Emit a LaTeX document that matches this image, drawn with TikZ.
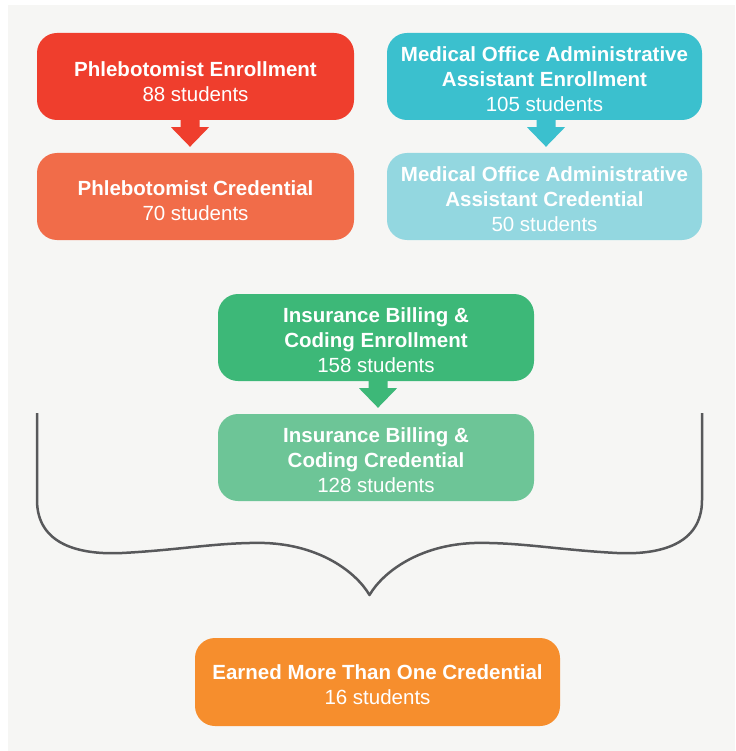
\documentclass[tikz,border=0pt]{standalone}
\usepackage{fontspec}
\setmainfont{Liberation Sans}
\definecolor{bgGray}{HTML}{F6F6F4}
\definecolor{cRed}{HTML}{EF3E2D}
\definecolor{cRedL}{HTML}{F16C49}
\definecolor{cTeal}{HTML}{3BC0CE}
\definecolor{cTealL}{HTML}{93D7E0}
\definecolor{cGreen}{HTML}{3DB878}
\definecolor{cGreenL}{HTML}{6DC597}
\definecolor{cOrange}{HTML}{F68E2D}
\definecolor{braceGray}{HTML}{58595B}
\newcommand\flowarr[4]{%
  \fill[#1] ([xshift=#4-9.5pt,yshift=1pt]#2.south) -- ([xshift=#4-9.5pt,yshift=-7pt]#2.south)
    -- ([xshift=#4-19pt,yshift=-7pt]#2.south) -- ([xshift=#4,yshift=6pt]#3.north)
    -- ([xshift=#4+19pt,yshift=-7pt]#2.south) -- ([xshift=#4+9.5pt,yshift=-7pt]#2.south)
    -- ([xshift=#4+9.5pt,yshift=1pt]#2.south) -- cycle;}
\begin{document}
\begin{tikzpicture}[x=1pt,y=-1pt,
  box/.style={rectangle, rounded corners=20pt, inner sep=0pt, draw=none},
  lbl/.style={text=white, align=center, inner sep=0pt, font=\fontsize{20.5}{25}\selectfont}]
\useasboundingbox (0,0) rectangle (735,751);
\fill[white] (0,0) rectangle (735,751);
\fill[bgGray] (8,5) rectangle (735,751);

% boxes
\node[box, fill=cRed, minimum width=317pt, minimum height=87pt] (pe) at (195.5,76.5) {};
\node[box, fill=cRedL, minimum width=317pt, minimum height=87pt] (pc) at (195.5,196.5) {};
\node[box, fill=cTeal, minimum width=315pt, minimum height=87pt] (me) at (544.5,76.5) {};
\node[box, fill=cTealL, minimum width=315pt, minimum height=87pt] (mc) at (544.5,196.5) {};
\node[box, fill=cGreen, minimum width=316pt, minimum height=87pt] (ie) at (376,337.5) {};
\node[box, fill=cGreenL, minimum width=316pt, minimum height=87pt] (ic) at (376,457.5) {};
\node[box, fill=cOrange, minimum width=365pt, minimum height=88pt] (oc) at (377.5,682) {};

% texts
\node[lbl] (pe-t) at ([yshift=-5pt]pe.center) {\textbf{Phlebotomist Enrollment}\\88 students};
\node[lbl] (pc-t) at ([yshift=-4pt]pc.center) {\textbf{Phlebotomist Credential}\\70 students};
\node[lbl] (me-t) at ([yshift=-3pt]me.center) {\textbf{Medical Office Administrative}\\\textbf{Assistant Enrollment}\\105 students};
\node[lbl] (mc-t) at ([yshift=-3pt]mc.center) {\textbf{Medical Office Administrative}\\\textbf{Assistant Credential}\\50 students};
\node[lbl] (ie-t) at ([yshift=-3pt]ie.center) {\textbf{Insurance Billing \&}\\\textbf{Coding Enrollment}\\158 students};
\node[lbl] (ic-t) at ([yshift=-3pt]ic.center) {\textbf{Insurance Billing \&}\\\textbf{Coding Credential}\\128 students};
\node[lbl] (oc-t) at ([yshift=-3pt]oc.center) {\textbf{Earned More Than One Credential}\\16 students};

% arrows
\flowarr{cRed}{pe}{pc}{-5.5pt}
\flowarr{cTeal}{me}{mc}{1.5pt}
\flowarr{cGreen}{ie}{ic}{2pt}

% brace
\coordinate (bL) at (37,413);
\coordinate (bR) at (702,413);
\coordinate (bTip) at (369.5,595);
\draw[braceGray, line width=2.5pt, line join=round]
  (bL) -- (37,500) .. controls (37,545) and (80,555) .. (122,553)
  .. controls (180,550) and (220,542) .. (265,543)
  .. controls (320,545) and (356,572) .. (bTip)
  .. controls (383,572) and (419,545) .. (474,543)
  .. controls (519,542) and (559,550) .. (617,553)
  .. controls (659,555) and (702,545) .. (702,500) -- (bR);
\end{tikzpicture}
\end{document}
